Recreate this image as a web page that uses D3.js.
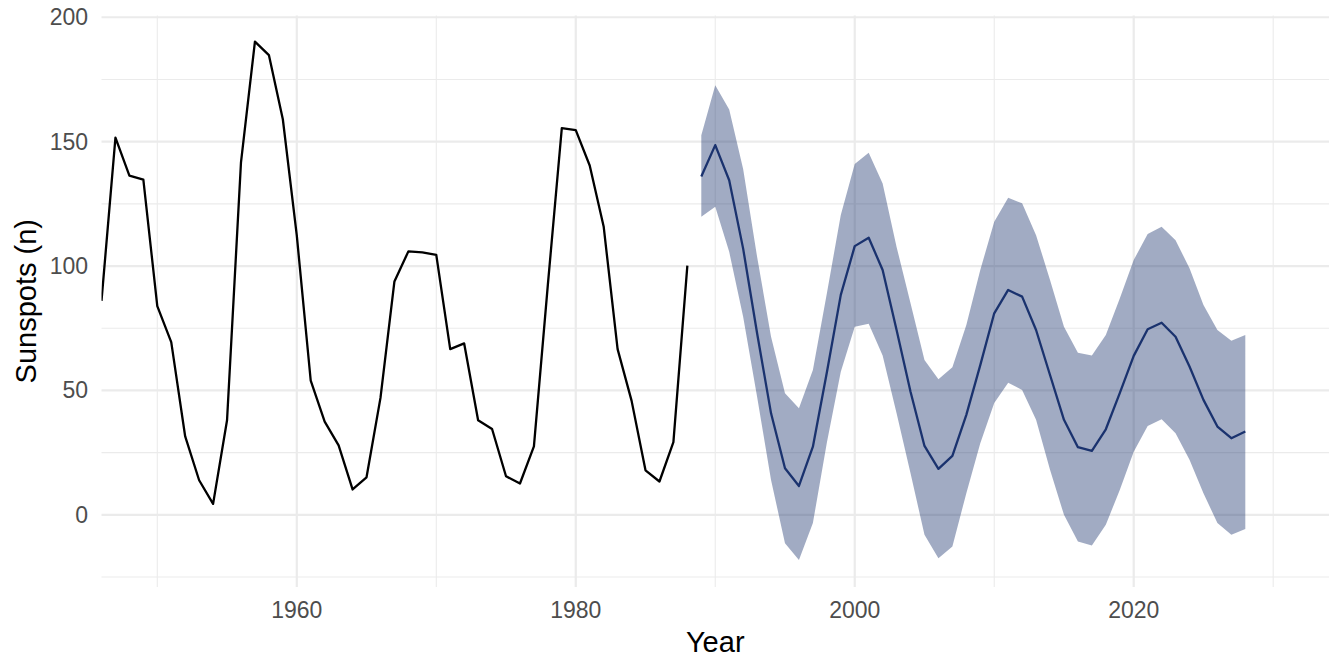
<!DOCTYPE html>
<html>
<head>
<meta charset="utf-8">
<script src="https://d3js.org/d3.v7.min.js"></script>
<style>
  body { margin: 0; background: #fff; }
  svg text { font-family: "Liberation Sans", Arial, Helvetica, sans-serif; }
  .tick-label { font-size: 23px; fill: #4d4d4d; }
  .axis-title { font-size: 29px; fill: #000; }
</style>
</head>
<body>
<svg id="chart" width="1344" height="672"></svg>
<script>
// observed annual sunspots
var obsYears = d3.range(1946, 1989);
var obsValues = [86, 151.6, 136.3, 134.7, 83.9, 69.4, 31.5, 13.9, 4.4, 38.0,
  141.7, 190.2, 184.8, 159.0, 112.3, 53.9, 37.5, 27.9, 10.2, 15.1,
  47.0, 93.8, 105.9, 105.5, 104.5, 66.6, 68.9, 38.0, 34.5, 15.5,
  12.6, 27.5, 92.5, 155.4, 154.6, 140.4, 115.9, 66.6, 45.9, 17.9,
  13.4, 29.2, 100.2];

// forecast 1989-2028
var fcYears = d3.range(1989, 2029);
var fcMean = [136, 148.6, 134.5, 107, 73, 40.8, 18.7, 11.6, 27.4, 57.2,
  88.4, 108, 111.4, 98.4, 74.3, 49.5, 27.7, 18.5, 23.7, 40.2,
  60.2, 81, 90.4, 87.7, 74.3, 56.2, 38.2, 27.2, 25.7, 34.4,
  48.9, 63.9, 74.6, 77.2, 71.6, 59.6, 46.2, 35.5, 30.8, 33.5];
var fcUpper = [152.6, 172.7, 162.9, 139, 103.7, 71.6, 48.9, 42.8, 58.2, 89,
  120.5, 141, 145.5, 133.2, 107.7, 85, 62.2, 54.5, 59.3, 76.3,
  98.4, 117.8, 127.4, 125.2, 112.4, 94.4, 75.6, 65.2, 64, 72.3,
  87, 102.4, 112.9, 115.8, 110.4, 99.1, 84.3, 74.3, 70, 72.3];
var fcLower = [119.8, 123.8, 105.7, 79.6, 47.5, 14, -11.4, -18.1, -3.3, 29,
  57.5, 75.6, 76.8, 64, 40.8, 16.7, -8, -17.4, -12.7, 8.7,
  28.8, 45, 53.1, 50.2, 38.2, 18.1, 0, -10.7, -12.3, -4,
  10, 25.4, 35.7, 38.4, 32.8, 22.1, 8.7, -3.3, -8, -5.7];

var xMajor = [1960, 1980, 2000, 2020];
var xMinor = [1950, 1970, 1990, 2010, 2030];
var yMajor = [0, 50, 100, 150, 200];
var yMinor = [-25, 25, 75, 125, 175];

var svg = d3.select("#chart");
var pLeft = 101.5, pRight = 1329, pTop = 15.5, pBottom = 587;

var x = d3.scaleLinear().domain([1946, 2034]).range([pLeft, pRight]);
var y = d3.scaleLinear().domain([-29, 200.7]).range([pBottom, pTop]);

svg.append("clipPath").attr("id", "panel")
  .append("rect").attr("x", pLeft).attr("y", pTop)
  .attr("width", pRight - pLeft).attr("height", pBottom - pTop);

var grid = svg.append("g");
grid.selectAll(".ymin").data(yMinor).enter().append("line")
  .attr("x1", pLeft).attr("x2", pRight)
  .attr("y1", function(d) { return y(d); }).attr("y2", function(d) { return y(d); })
  .attr("stroke", "#ebebeb").attr("stroke-width", 1.1);
grid.selectAll(".xmin").data(xMinor).enter().append("line")
  .attr("y1", pTop).attr("y2", pBottom)
  .attr("x1", function(d) { return x(d); }).attr("x2", function(d) { return x(d); })
  .attr("stroke", "#ebebeb").attr("stroke-width", 1.1);
grid.selectAll(".ymaj").data(yMajor).enter().append("line")
  .attr("x1", pLeft).attr("x2", pRight)
  .attr("y1", function(d) { return y(d); }).attr("y2", function(d) { return y(d); })
  .attr("stroke", "#ebebeb").attr("stroke-width", 2.2);
grid.selectAll(".xmaj").data(xMajor).enter().append("line")
  .attr("y1", pTop).attr("y2", pBottom)
  .attr("x1", function(d) { return x(d); }).attr("x2", function(d) { return x(d); })
  .attr("stroke", "#ebebeb").attr("stroke-width", 2.2);

var plot = svg.append("g").attr("clip-path", "url(#panel)");

var band = d3.area()
  .x(function(d, i) { return x(fcYears[i]); })
  .y0(function(d, i) { return y(fcLower[i]); })
  .y1(function(d, i) { return y(fcUpper[i]); });
plot.append("path").datum(fcMean).attr("d", band)
  .attr("fill", "rgb(26,50,110)").attr("fill-opacity", 0.41);

var obsLine = d3.line()
  .x(function(d, i) { return x(obsYears[i]); })
  .y(function(d) { return y(d); });
plot.append("path").datum(obsValues).attr("d", obsLine)
  .attr("fill", "none").attr("stroke", "#000").attr("stroke-width", 2.3)
  .attr("stroke-linejoin", "round");

var fcLine = d3.line()
  .x(function(d, i) { return x(fcYears[i]); })
  .y(function(d) { return y(d); });
plot.append("path").datum(fcMean).attr("d", fcLine)
  .attr("fill", "none").attr("stroke", "#1a326e").attr("stroke-width", 2.3)
  .attr("stroke-linejoin", "round");

svg.selectAll(".ytick").data(yMajor).enter().append("text")
  .attr("class", "tick-label")
  .attr("x", 88).attr("y", function(d) { return y(d) + 8; })
  .attr("text-anchor", "end")
  .text(function(d) { return d; });

svg.selectAll(".xtick").data(xMajor).enter().append("text")
  .attr("class", "tick-label")
  .attr("x", function(d) { return x(d); }).attr("y", 618)
  .attr("text-anchor", "middle")
  .text(function(d) { return d; });

svg.append("text").attr("class", "axis-title")
  .attr("x", (pLeft + pRight) / 2).attr("y", 652)
  .attr("text-anchor", "middle").text("Year");

svg.append("text").attr("class", "axis-title")
  .attr("transform", "translate(36," + ((pTop + pBottom) / 2) + ") rotate(-90)")
  .attr("text-anchor", "middle").text("Sunspots (n)");
</script>
</body>
</html>
